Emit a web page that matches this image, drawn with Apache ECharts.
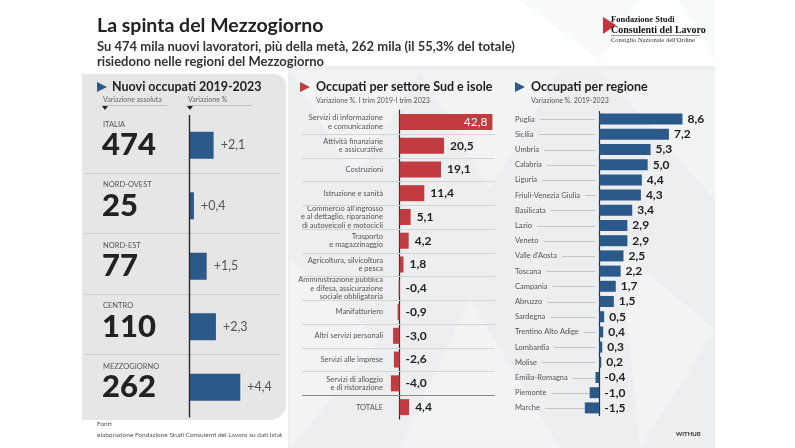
<!DOCTYPE html>
<html><head><meta charset="utf-8">
<script src="https://cdn.jsdelivr.net/npm/echarts@6/dist/echarts.min.js"></script>
<style>html,body{margin:0;padding:0;background:#fff}#c{width:795px;height:448px}</style>
</head><body><div id="c"></div>
<script>
// ---------- data ----------
const areaNames = ['ITALIA', 'NORD-OVEST', 'NORD-EST', 'CENTRO', 'MEZZOGIORNO'];
const areaAbs = [474, 25, 77, 110, 262];
const areaPct = [2.1, 0.4, 1.5, 2.3, 4.4];

const sectorNames = [
  'Servizi di informazione\ne comunicazione',
  'Attività finanziarie\ne assicurative',
  'Costruzioni',
  'Istruzione e sanità',
  "Commercio all'ingrosso\ne al dettaglio, riparazione\ndi autoveicoli e motocicli",
  'Trasporto\ne magazzinaggio',
  'Agricoltura, silvicoltura\ne pesca',
  'Amministrazione pubblica\ne difesa, assicurazione\nsociale obbligatoria',
  'Manifatturiero',
  'Altri servizi personali',
  'Servizi alle imprese',
  'Servizi di alloggio\ne di ristorazione',
  'TOTALE'
];
const sectorPct = [42.8, 20.5, 19.1, 11.4, 5.1, 4.2, 1.8, -0.4, -0.9, -3.0, -2.6, -4.0, 4.4];

const regionNames = ['Puglia', 'Sicilia', 'Umbria', 'Calabria', 'Liguria', 'Friuli-Venezia Giulia',
  'Basilicata', 'Lazio', 'Veneto', "Valle d'Aosta", 'Toscana', 'Campania', 'Abruzzo', 'Sardegna',
  'Trentino Alto Adige', 'Lombardia', 'Molise', 'Emilia-Romagna', 'Piemonte', 'Marche'];
const regionPct = [8.6, 7.2, 5.3, 5.0, 4.4, 4.3, 3.4, 2.9, 2.9, 2.5, 2.2, 1.7, 1.5, 0.5, 0.4, 0.3, 0.2, -0.4, -1.0, -1.5];

// ---------- style ----------
const FF = 'Lato, "Open Sans", sans-serif';
const BLUE = '#2b5a8a';
const RED = '#c23b40';
const DARK = '#222222';
const fmt = v => v.toFixed(1).replace('.', ',');
const fmtPlus = v => (v > 0 ? '+' : '') + fmt(v);

const mctx = document.createElement('canvas').getContext('2d');
const REG_LABEL_FONT = 7.5;
mctx.font = REG_LABEL_FONT + 'px Lato';
const textW = s => mctx.measureText(s).width;

const G_SEC = {left: 302, top: 110, width: 193, height: 309};
const G_REG = {left: 580, top: 111.5, width: 116, height: 304};
const SEC_LABEL_RIGHT = 383;
const REG_LABEL_LEFT = 515;
const HEAD = 12.5;

const chart = echarts.init(document.getElementById('c'), null, {renderer: 'canvas'});

function tri(x, y, color) {
  return {type: 'polygon', shape: {points: [[x, y - 5], [x + 10, y], [x, y + 5]]}, style: {fill: color}};
}
function txt(x, y, text, size, weight, color, extra) {
  return Object.assign({type: 'text', x: x, y: y, style: Object.assign({
    text: text, fontSize: size, fontWeight: weight, fontFamily: FF, fill: color,
    align: 'left', verticalAlign: 'middle'}, extra || {})});
}

const bgTriangles = [
  [[290, 70], [420, 70], [355, 180]], [[420, 70], [560, 70], [490, 190]],
  [[600, 70], [715, 70], [715, 200]], [[290, 260], [380, 340], [290, 448]],
  [[470, 300], [560, 448], [400, 448]], [[620, 250], [715, 330], [640, 448]],
  [[520, 0], [640, 0], [600, 60]], [[680, 0], [715, 0], [715, 60]]
];

const SERIF = '"Liberation Serif", "DejaVu Serif", serif';
const graphic = [
  {type: 'rect', z: -10, shape: {x: 288, y: 66, width: 427, height: 382}, style: {fill: '#eceeef'}},
  ...bgTriangles.map(p => ({type: 'polygon', z: -9, shape: {points: p}, style: {fill: '#f5f6f7', opacity: 0.7}})),
  {type: 'rect', z: -8, shape: {x: 82, y: 74, width: 204, height: 346, r: [0, 12, 16, 0]}, style: {fill: '#e6e6e7'}},
  // title
  txt(97, 26, 'La spinta del Mezzogiorno', 19.5, 'bold', DARK),
  txt(97, 47, 'Su 474 mila nuovi lavoratori, più della metà, 262 mila (il 55,3% del totale)', 13, 'bold', '#333'),
  txt(97, 62, 'risiedono nelle regioni del Mezzogiorno', 13, 'bold', '#333'),
  // logo
  {type: 'polygon', shape: {points: [[603, 17], [616, 25], [603, 34]]}, style: {fill: '#c8323a'}},
  txt(611, 20, 'Fondazione Studi', 8.5, 'bold', '#111', {fontFamily: SERIF}),
  txt(611, 30, 'Consulenti del Lavoro', 10, 'bold', '#111', {fontFamily: SERIF}),
  {type: 'line', shape: {x1: 611, y1: 35.5, x2: 700, y2: 35.5}, style: {stroke: '#555', lineWidth: 0.6}},
  txt(611, 40, "Consiglio Nazionale dell'Ordine", 6.5, 'normal', '#333', {fontFamily: SERIF}),
  // left header
  tri(97, 87, BLUE),
  txt(112, 87, 'Nuovi occupati 2019-2023', HEAD, 'bold', DARK),
  txt(103, 100, 'Variazione assoluta', 7, 'normal', '#666'),
  {type: 'line', shape: {x1: 102, y1: 105.5, x2: 167, y2: 105.5}, style: {stroke: '#b8b8b8', lineWidth: 0.8}},
  {type: 'polygon', shape: {points: [[102, 106], [108, 106], [105, 110]]}, style: {fill: '#222'}},
  txt(188, 100, 'Variazione %', 7, 'normal', '#666'),
  {type: 'line', shape: {x1: 187, y1: 105.5, x2: 252, y2: 105.5}, style: {stroke: '#b8b8b8', lineWidth: 0.8}},
  {type: 'polygon', shape: {points: [[187, 106], [193, 106], [190, 110]]}, style: {fill: '#222'}},
  // middle header
  tri(300, 87, RED),
  txt(316, 87, 'Occupati per settore Sud e isole', HEAD, 'bold', DARK),
  txt(316, 101, 'Variazione %. I trim 2019-I trim 2023', 7, 'normal', '#555'),
  // right header
  tri(515, 87, BLUE),
  txt(531, 87, 'Occupati per regione', HEAD, 'bold', DARK),
  txt(531, 101, 'Variazione %. 2019-2023', 7, 'normal', '#555'),
  // footer
  txt(97, 424, 'Fonti', 6.5, 'normal', '#555'),
  txt(97, 435, 'elaborazione Fondazione Studi Consulenti del Lavoro su dati Istat', 6.5, 'normal', '#555'),
  txt(676, 434, 'WITHUB', 6, 'bold', '#333')
];

function sepSeries(xi, yi, names, opts) {
  return {
    type: 'custom', xAxisIndex: xi, yAxisIndex: yi, silent: true, z: 1,
    data: names.map((n, i) => [0, i]),
    renderItem(params, api) {
      const i = api.value(1);
      if (i === 0) return null;
      const c = api.coord([0, i]);
      const band = api.size([0, 1])[1];
      const cs = params.coordSys;
      const y = Math.round(c[1] - band / 2 - opts.shift) + 0.5;
      const isLast = opts.darkLast && i === names.length - 1;
      return {type: 'line', shape: {x1: cs.x + opts.l, y1: y, x2: cs.x + cs.width - opts.r, y2: y},
        style: {stroke: isLast ? '#8a8a8a' : opts.color, lineWidth: isLast ? 1.2 : 1}};
    }
  };
}

const sectorMax = Math.max(...sectorPct);

const option = {
  animation: false,
  backgroundColor: '#ffffff',
  graphic: graphic,
  grid: [
    {left: 85, top: 115, width: 197, height: 302.5},
    G_SEC,
    G_REG
  ],
  xAxis: [
    {gridIndex: 0, type: 'value', min: -9, max: 8, show: false},
    {gridIndex: 1, type: 'value', min: -45, max: 44, show: false},
    {gridIndex: 2, type: 'value', min: -2, max: 10, show: false}
  ],
  yAxis: [
    {gridIndex: 0, type: 'category', data: areaNames, inverse: true,
      axisLine: {show: false}, axisTick: {show: false}, axisLabel: {show: false}, splitLine: {show: false}},
    {gridIndex: 0, type: 'category', data: areaNames, inverse: true, position: 'left',
      axisLine: {show: false, onZero: false}, axisTick: {show: false}, splitLine: {show: false},
      axisLabel: {inside: true, align: 'left', margin: 18, interval: 0, verticalAlign: 'bottom',
        padding: [0, 0, 17, 0], fontSize: 7.5, color: '#555', fontFamily: FF}},
    {gridIndex: 0, type: 'category', data: areaNames, inverse: true, position: 'left',
      axisLine: {show: false, onZero: false}, axisTick: {show: false}, splitLine: {show: false},
      axisLabel: {inside: true, align: 'left', margin: 17, interval: 0, verticalAlign: 'middle',
        fontSize: 31, fontWeight: 900, color: DARK, fontFamily: FF,
        formatter: (v, i) => String(areaAbs[i])}},
    {gridIndex: 1, type: 'category', data: sectorNames, inverse: true,
      axisLine: {onZero: true, lineStyle: {color: '#2a2a2a', width: 1.2}},
      axisTick: {show: false}, splitLine: {show: false},
      axisLabel: {inside: true, margin: SEC_LABEL_RIGHT - G_SEC.left, interval: 0, fontSize: 7.5, lineHeight: 8.5,
        color: '#555', fontFamily: FF, align: 'right'}},
    {gridIndex: 2, type: 'category', data: regionNames, inverse: true,
      axisLine: {onZero: true, lineStyle: {color: '#2a2a2a', width: 1.2}},
      axisTick: {show: false}, splitLine: {show: false},
      axisLabel: {margin: G_REG.left - REG_LABEL_LEFT, interval: 0, fontSize: REG_LABEL_FONT, color: '#555',
        fontFamily: 'Lato', align: 'left'}}
  ],
  series: [
    sepSeries(0, 0, areaNames, {shift: 3, l: 0, r: 2, color: '#cdcdcd'}),
    {type: 'bar', xAxisIndex: 0, yAxisIndex: 0, data: areaPct, barWidth: 27, z: 3,
      itemStyle: {color: BLUE},
      label: {show: true, position: 'right', distance: 7, fontSize: 12.5, color: '#555', fontFamily: FF,
        formatter: p => fmtPlus(p.value)},
      markLine: {silent: true, symbol: 'none', label: {show: false}, animation: false,
        lineStyle: {color: '#2a2a2a', width: 1.4, type: 'solid'},
        data: [{xAxis: 0}]}},
    sepSeries(1, 3, sectorNames, {shift: 0, l: 0, r: 0, color: '#d2d4d6', darkLast: true}),
    {type: 'bar', xAxisIndex: 1, yAxisIndex: 3, barWidth: 16, z: 3,
      data: sectorPct.map(v => v === sectorMax
        ? {value: v, label: {position: 'insideRight', color: '#fff', fontWeight: 'normal', distance: 5}}
        : v),
      itemStyle: {color: RED},
      label: {show: true, position: 'right', distance: 6, fontSize: 12, fontWeight: 'bold', color: DARK, fontFamily: FF,
        formatter: p => fmt(p.value)}},
    {type: 'custom', xAxisIndex: 2, yAxisIndex: 4, silent: true, z: 1,
      data: regionNames.map((n, i) => [0, i]),
      renderItem(params, api) {
        const i = api.value(1);
        const c = api.coord([0, i]);
        const x1 = REG_LABEL_LEFT + textW(regionNames[i]) + 5;
        const y = Math.round(c[1]) + 0.5;
        return {type: 'line', shape: {x1: x1, y1: y, x2: c[0] - 4, y2: y},
          style: {stroke: '#b9bbbd', lineWidth: 0.8}};
      }},
    {type: 'bar', xAxisIndex: 2, yAxisIndex: 4, data: regionPct, barWidth: 11, z: 3,
      itemStyle: {color: BLUE},
      label: {show: true, position: 'right', distance: 5, fontSize: 12, fontWeight: 'bold', color: DARK, fontFamily: FF,
        formatter: p => fmt(p.value)}}
  ]
};
chart.setOption(option);
</script></body></html>
